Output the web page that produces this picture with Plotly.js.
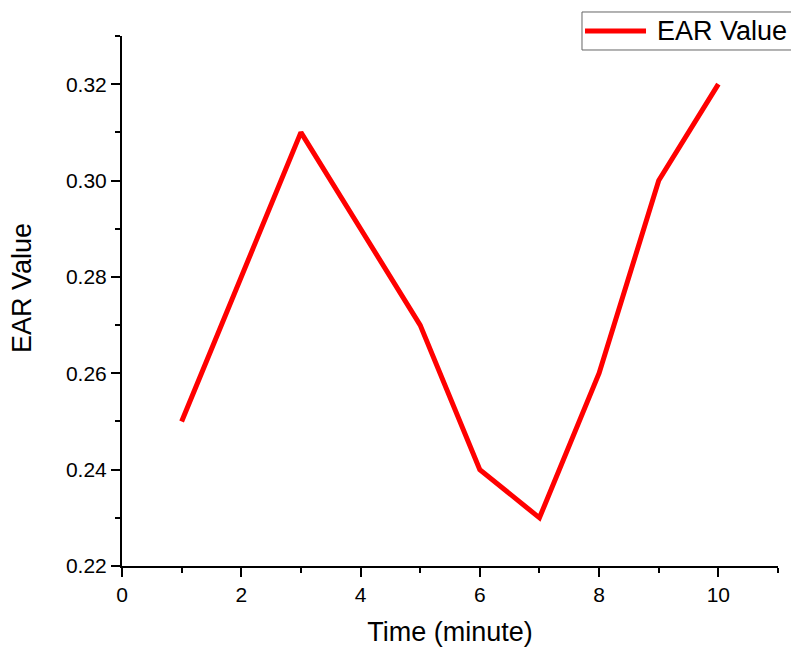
<!DOCTYPE html>
<html>
<head>
<meta charset="utf-8">
<script src="https://cdn.plot.ly/plotly-3.0.1.min.js"></script>
<style>html,body{margin:0;padding:0;background:#fff;}#chart{width:791px;height:649px;}</style>
</head>
<body>
<div id="chart"></div>
<script>
const timeMinutes = [1, 2, 3, 4, 5, 6, 7, 8, 9, 10];
const earValues = [0.25, 0.28, 0.31, 0.29, 0.27, 0.24, 0.23, 0.26, 0.30, 0.32];
const seriesName = 'EAR Value';
const xTitle = 'Time (minute)';
const yTitle = 'EAR Value';

const FONT = 'Arial, "Liberation Sans", sans-serif';
const RED = '#ff0000';

const trace = {
  x: timeMinutes,
  y: earValues,
  type: 'scatter',
  mode: 'lines',
  name: seriesName,
  line: {color: RED, width: 5},
  showlegend: false
};

const axisCommon = {
  showline: true,
  linecolor: '#000',
  linewidth: 2,
  showgrid: false,
  zeroline: false,
  ticks: 'outside',
  ticklen: 9,
  tickwidth: 2,
  tickcolor: '#000',
  tickfont: {family: FONT, size: 21, color: '#000'},
  mirror: false
};

// legend drawn in paper coordinates (box, sample line, label)
const layout = {
  width: 791,
  height: 649,
  paper_bgcolor: '#fff',
  plot_bgcolor: '#fff',
  margin: {l: 122, r: 13, t: 36, b: 83, autoexpand: false},
  font: {family: FONT, color: '#000'},
  xaxis: Object.assign({}, axisCommon, {
    range: [0, 11],
    tick0: 0,
    dtick: 2,
    minor: {dtick: 1, ticks: 'outside', ticklen: 5, tickwidth: 2, tickcolor: '#000', showgrid: false},
    title: {text: xTitle, font: {family: FONT, size: 27, color: '#000'}, standoff: 17}
  }),
  yaxis: Object.assign({}, axisCommon, {
    range: [0.22, 0.33],
    tick0: 0.22,
    dtick: 0.02,
    tickformat: '.2f',
    minor: {dtick: 0.01, ticks: 'outside', ticklen: 5, tickwidth: 2, tickcolor: '#000', showgrid: false}
  }),
  showlegend: false,
  shapes: [
    {type: 'rect', xref: 'paper', yref: 'paper', x0: 0.7012, x1: 1.04, y0: 0.9736, y1: 1.0453,
     line: {color: '#666', width: 1}, fillcolor: '#fff', layer: 'above'},
    {type: 'line', xref: 'paper', yref: 'paper', x0: 0.7058, x1: 0.7988, y0: 1.0094, y1: 1.0094,
     line: {color: RED, width: 5}, layer: 'above'}
  ],
  annotations: [
    {xref: 'paper', yref: 'paper', x: 0.8125, y: 1.0094, xanchor: 'left', yanchor: 'middle',
     text: seriesName, showarrow: false, font: {family: FONT, size: 27, color: '#000'}},
    {xref: 'paper', yref: 'paper', x: -0.1524, y: 0.5245, xanchor: 'center', yanchor: 'middle',
     textangle: -90, text: yTitle, showarrow: false, font: {family: FONT, size: 27, color: '#000'}}
  ]
};

Plotly.newPlot('chart', [trace], layout, {displayModeBar: false, staticPlot: true});
</script>
</body>
</html>
